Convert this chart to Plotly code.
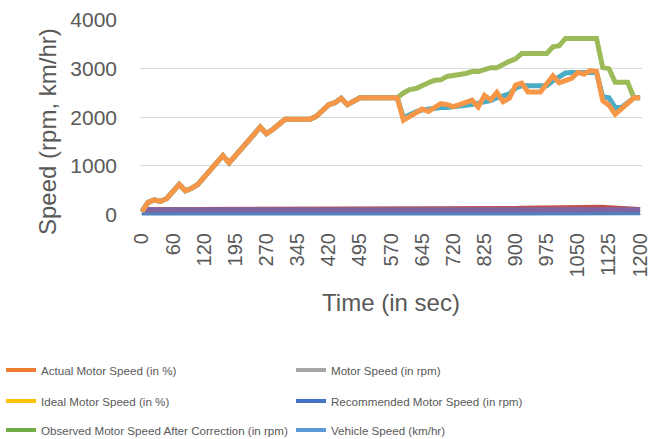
import plotly.graph_objects as go

# ---- data ----
time_sec = [0, 10, 20, 30, 45, 60, 75, 90, 100, 110, 120, 135, 150, 165, 180, 195, 210, 225, 240, 255,
            270, 285, 300, 315, 330, 345, 360, 375, 390, 405, 420, 435, 450, 465, 480, 495, 510, 525, 540, 555,
            570, 585, 600, 615, 630, 645, 660, 675, 690, 705, 720, 735, 750, 780, 810, 825, 840, 855, 870, 885,
            900, 915, 930, 945, 960, 975, 990, 1005, 1020, 1035, 1050, 1065, 1080, 1095, 1110, 1125, 1140, 1155, 1170, 1185,
            1200]

tick_labels = ["0", "60", "120", "195", "270", "345", "420", "495", "570", "645", "720",
               "825", "900", "975", "1050", "1125", "1200"]

y_ticks = [0, 1000, 2000, 3000, 4000]

vehicle_speed = [30, 30, 31, 31, 32, 32, 32, 33, 33, 33, 33, 34, 34, 34, 34, 34, 35, 35, 35, 35,
                 35, 35, 35, 35, 35, 35, 35, 35, 35, 35, 35, 35, 35, 35, 35, 35, 35, 35, 35, 35,
                 35, 35, 34, 34, 34, 34, 34, 34, 34, 34, 35, 35, 35, 35, 35, 35, 35, 35, 35, 35,
                 36, 36, 36, 36, 36, 36, 37, 37, 37, 37, 37, 37, 37, 37, 36, 35, 34, 34, 34, 35,
                 35]

actual_pct = [100, 100, 100, 100, 100, 100, 100, 100, 100, 100, 100, 100, 100, 100, 100, 100, 100, 100, 100, 100,
              100, 100, 100, 100, 100, 100, 100, 100, 100, 100, 100, 100, 100, 100, 100, 100, 100, 100, 100, 100,
              100, 100, 102, 103, 104, 105, 106, 107, 108, 109, 110, 111, 112, 113, 114, 115, 117, 119, 121, 123,
              125, 128, 131, 134, 137, 140, 142, 144, 146, 148, 150, 150, 150, 150, 148, 140, 130, 120, 112, 106,
              104]

motor_rpm = [60, 250, 300, 270, 330, 480, 620, 490, 540, 620, 760, 910, 1070, 1210, 1060, 1200, 1350, 1500, 1650, 1800,
             1660, 1750, 1850, 1960, 1960, 1960, 1960, 1960, 2020, 2150, 2260, 2300, 2390, 2260, 2330, 2400, 2400, 2400, 2400, 2400,
             2400, 2400, 2500, 2570, 2590, 2660, 2710, 2760, 2770, 2840, 2855, 2865, 2900, 2940, 2940, 2980, 3020, 3020, 3090, 3150,
             3200, 3310, 3310, 3310, 3310, 3310, 3450, 3470, 3620, 3620, 3620, 3620, 3620, 3620, 3020, 3000, 2720, 2720, 2720, 2400,
             2400]

ideal_pct = [100, 100, 100, 100, 100, 100, 100, 100, 100, 100, 100, 100, 100, 100, 100, 100, 100, 100, 100, 100,
             100, 100, 100, 100, 100, 100, 100, 100, 100, 100, 100, 100, 100, 100, 100, 100, 100, 100, 100, 100,
             100, 100, 100, 100, 100, 100, 100, 100, 100, 100, 100, 100, 100, 100, 100, 100, 100, 100, 100, 100,
             100, 100, 100, 100, 100, 100, 100, 100, 100, 100, 100, 100, 100, 100, 100, 100, 100, 100, 100, 100,
             100]

recommended_rpm = [60, 250, 300, 270, 330, 480, 620, 490, 540, 620, 760, 910, 1070, 1210, 1060, 1200, 1350, 1500, 1650, 1800,
                   1660, 1750, 1850, 1960, 1960, 1960, 1960, 1960, 2020, 2150, 2260, 2300, 2390, 2260, 2330, 2400, 2400, 2400, 2400, 2400,
                   2400, 2400, 1990, 2060, 2110, 2150, 2170, 2190, 2200, 2200, 2210, 2220, 2240, 2260, 2290, 2310, 2340, 2400, 2430, 2480,
                   2600, 2650, 2650, 2650, 2650, 2650, 2750, 2830, 2910, 2920, 2920, 2920, 2920, 2920, 2420, 2400, 2200, 2200, 2300, 2400,
                   2400]

observed_rpm = [60, 250, 300, 270, 330, 480, 620, 490, 540, 620, 760, 910, 1070, 1210, 1060, 1200, 1350, 1500, 1650, 1800,
                1660, 1750, 1850, 1960, 1960, 1960, 1960, 1960, 2020, 2150, 2260, 2300, 2390, 2260, 2330, 2400, 2400, 2400, 2400, 2400,
                2400, 2400, 1940, 2010, 2090, 2170, 2120, 2200, 2280, 2260, 2220, 2260, 2310, 2350, 2210, 2450, 2360, 2510, 2320, 2390,
                2660, 2700, 2520, 2520, 2520, 2690, 2850, 2710, 2750, 2800, 2920, 2890, 2960, 2940, 2340, 2250, 2060, 2170, 2300, 2400,
                2400]

# plotted series (drawing order) and their line colours in the plot
plot_series = [
    ("Vehicle Speed (km/hr)", vehicle_speed, "#4F81BD"),
    ("Actual Motor Speed (in %)", actual_pct, "#C0504D"),
    ("Motor Speed (in rpm)", motor_rpm, "#9BBB59"),
    ("Ideal Motor Speed (in %)", ideal_pct, "#8064A2"),
    ("Recommended Motor Speed (in rpm)", recommended_rpm, "#4BACC6"),
    ("Observed Motor Speed After Correction (in rpm)", observed_rpm, "#F79646"),
]

# legend entries as shown in the picture (rows of two)
legend_rows = [
    [("Actual Motor Speed (in %)", "#ED7D31"), ("Motor Speed (in rpm)", "#A5A5A5")],
    [("Ideal Motor Speed (in %)", "#FFC000"), ("Recommended Motor Speed (in rpm)", "#4472C4")],
    [("Observed Motor Speed After Correction (in rpm)", "#70AD47"), ("Vehicle Speed (km/hr)", "#5B9BD5")],
]

FONT = "Liberation Sans, Arial, sans-serif"
GREY = "#595959"

x_cat = [str(t) for t in time_sec]

fig = go.Figure()
for name, vals, color in plot_series:
    fig.add_trace(go.Scatter(x=x_cat, y=vals, mode="lines", name=name,
                             line=dict(color=color, width=5), showlegend=False))

legend_ids = ["legend", "legend2", "legend3"]
for lid, row in zip(legend_ids, legend_rows):
    for name, color in row:
        fig.add_trace(go.Scatter(x=[None], y=[None], mode="lines", name=name,
                                 line=dict(color=color, width=4), legend=lid, showlegend=True))

W, H = 657, 439
ML, MR, MT, MB = 140, 15, 20, 223
plot_w = W - ML - MR
plot_h = H - MT - MB
row_centers = [370, 401, 430]

layout_legends = {}
for lid, yc in zip(legend_ids, row_centers):
    layout_legends[lid] = dict(
        orientation="h", x=(1 - ML) / plot_w, xanchor="left",
        y=(H - MB - yc) / plot_h, yanchor="middle",
        entrywidth=245, entrywidthmode="pixels",
        font=dict(family=FONT, size=11.6, color=GREY),
        bgcolor="rgba(0,0,0,0)", itemclick=False,
    )

fig.update_layout(
    width=W, height=H,
    margin=dict(l=ML, r=MR, t=MT, b=MB, autoexpand=False),
    paper_bgcolor="white", plot_bgcolor="white",
    font=dict(family=FONT, color=GREY),
    annotations=[dict(
        text="Speed (rpm, km/hr)", textangle=-90, showarrow=False,
        xref="paper", yref="paper",
        x=(47 - ML) / plot_w, y=(H - MB - 132) / plot_h,
        xanchor="center", yanchor="middle",
        font=dict(family=FONT, size=24, color=GREY),
    )],
    **layout_legends,
)

fig.update_xaxes(
    type="category", categoryorder="array", categoryarray=x_cat,
    tickmode="array", tickvals=tick_labels, ticktext=tick_labels,
    tickangle=-90, tickfont=dict(size=20, color=GREY),
    range=[-0.3, 80.3], showgrid=False, zeroline=False, showline=False,
    ticks="", ticklabelstandoff=12,
    title=dict(text="Time (in sec)", font=dict(size=24, color=GREY), standoff=17),
    automargin=False,
)
fig.update_yaxes(
    range=[-30, 4000], tickmode="array", tickvals=y_ticks,
    tickfont=dict(size=21, color=GREY), showgrid=True, gridcolor="#D9D9D9", gridwidth=1,
    zeroline=False, showline=False, ticks="", ticklabelstandoff=22,
    automargin=False,
)

fig.write_html("out.html", config={"displayModeBar": False},
               post_script="document.body.style.margin='0';")
